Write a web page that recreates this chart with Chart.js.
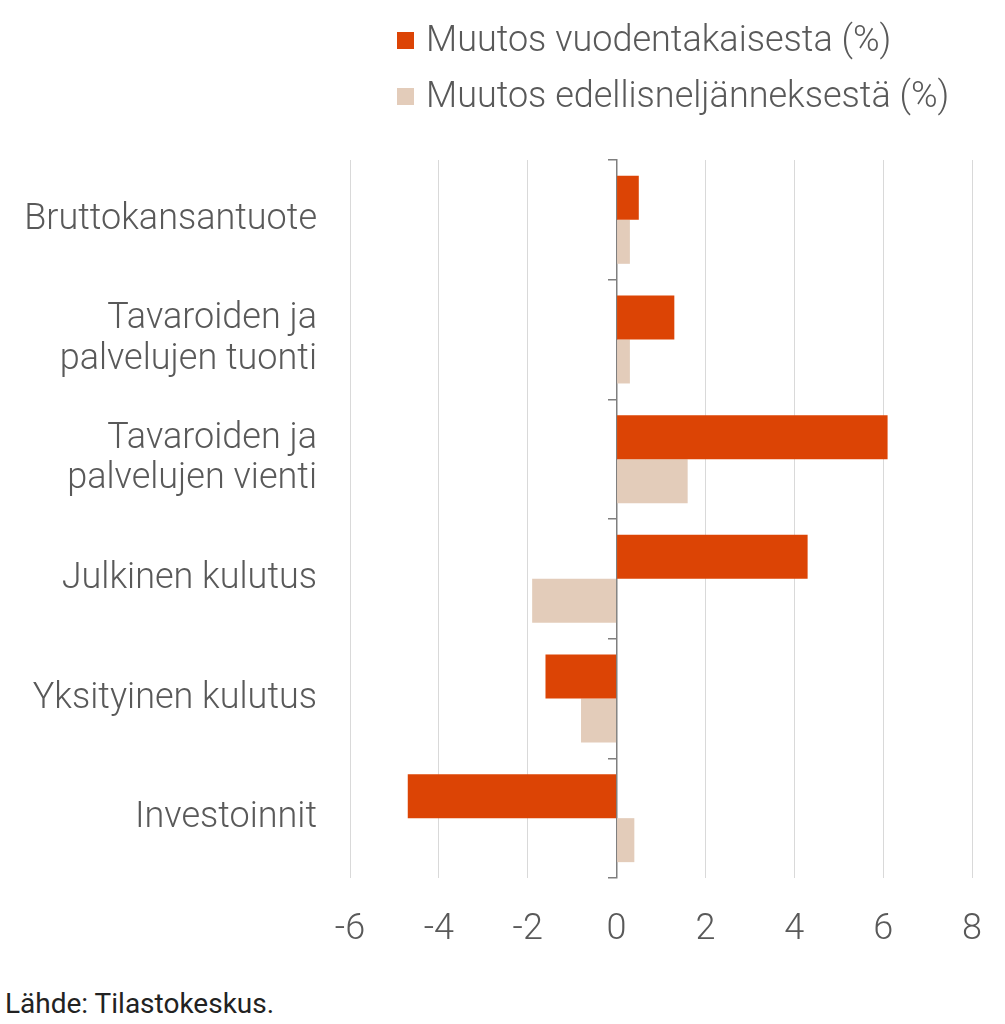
<!DOCTYPE html>
<html lang="fi">
<head>
    <meta charset="UTF-8">
    <title>BKT ja kysyntäerät</title>
    <script src="https://cdn.jsdelivr.net/npm/chart.js"></script>
    <style>
        body {
            margin: 0;
            background: #fff;
            font-family: Roboto, Arial, sans-serif;
        }

        #wrap {
            position: relative;
            width: 1005px;
            height: 1024px;
        }

        #legend {
            position: absolute;
            left: 397px;
            top: 15px;
            font-weight: 300;
            font-size: 36px;
            color: #595959;
        }

        .item {
            height: 56px;
            line-height: 48px;
            white-space: nowrap;
        }

        .box {
            display: inline-block;
            width: 17px;
            height: 17px;
            margin-right: 12px;
            vertical-align: 2px;
        }

        #chart-div {
            position: absolute;
            left: 0;
            top: 0;
            width: 1005px;
            height: 960px;
        }

        #source {
            position: absolute;
            left: 5px;
            top: 987px;
            font-size: 28px;
            color: #222;
        }
    </style>
</head>
<body>
<div id="wrap">
    <div id="chart-div"><canvas id="chart" width="1005" height="960"></canvas></div>
    <div id="legend"></div>
    <div id="source">Lähde: Tilastokeskus.</div>
</div>

<script>
    const categories = [
        'Bruttokansantuote',
        ['Tavaroiden ja', 'palvelujen tuonti'],
        ['Tavaroiden ja', 'palvelujen vienti'],
        'Julkinen kulutus',
        'Yksityinen kulutus',
        'Investoinnit'
    ];
    const seriesNames = ['Muutos vuodentakaisesta (%)', 'Muutos edellisneljänneksestä (%)'];
    const yearChange = [0.5, 1.3, 6.1, 4.3, -1.6, -4.7];
    const quarterChange = [0.3, 0.3, 1.6, -1.9, -0.8, 0.4];
    const colors = ['#dc4405', '#e3ccba'];

    const textColor = '#595959';
    const tickFont = { family: 'Roboto', size: 36, weight: 300, lineHeight: 1.12 };

    // legend as plain html, stacked like the original
    const legend = document.getElementById('legend');
    seriesNames.forEach((name, i) => {
        const row = document.createElement('div');
        row.className = 'item';
        row.innerHTML = '<span class="box" style="background:' + colors[i] + '"></span>' + name;
        legend.appendChild(row);
    });

    const ctx = document.getElementById('chart').getContext('2d');
    const chart = new Chart(ctx, {
        type: 'bar',
        data: {
            labels: categories,
            datasets: [
                { label: seriesNames[0], data: yearChange, backgroundColor: colors[0] },
                { label: seriesNames[1], data: quarterChange, backgroundColor: colors[1] }
            ]
        },
        options: {
            indexAxis: 'y',
            responsive: false,
            animation: false,
            layout: { padding: { top: 160, right: 33, left: 0, bottom: 0 } },
            datasets: {
                bar: { barPercentage: 1, categoryPercentage: 0.735 }
            },
            plugins: {
                legend: { display: false },
                tooltip: { enabled: false }
            },
            scales: {
                x: {
                    min: -6,
                    max: 8,
                    // invisible tick marks push the labels down without widening the side padding
                    ticks: { stepSize: 2, color: textColor, font: tickFont, padding: 2 },
                    grid: {
                        drawTicks: true,
                        tickLength: 30,
                        tickColor: 'rgba(0,0,0,0)',
                        color: c => c.tick && c.tick.value === 0 ? 'rgba(0,0,0,0)' : '#d9d9d9',
                        lineWidth: 1
                    },
                    border: { display: false },
                    afterFit: s => { s.height = 82; }
                },
                y: {
                    ticks: { color: textColor, font: tickFont, padding: 33 },
                    grid: { display: false, drawTicks: false },
                    border: { display: false },
                    afterFit: s => { s.width = 350; }
                },
                // zero line with the little category ticks
                y2: {
                    type: 'category',
                    axis: 'y',
                    position: { x: 0 },
                    offset: true,
                    z: 1,
                    ticks: { display: false },
                    grid: {
                        offset: true,
                        drawOnChartArea: false,
                        drawTicks: true,
                        tickLength: 8,
                        color: '#7f7f7f',
                        lineWidth: 1.5
                    },
                    border: { display: true, color: '#7f7f7f', width: 1.5 }
                }
            }
        }
    });
</script>
</body>
</html>
